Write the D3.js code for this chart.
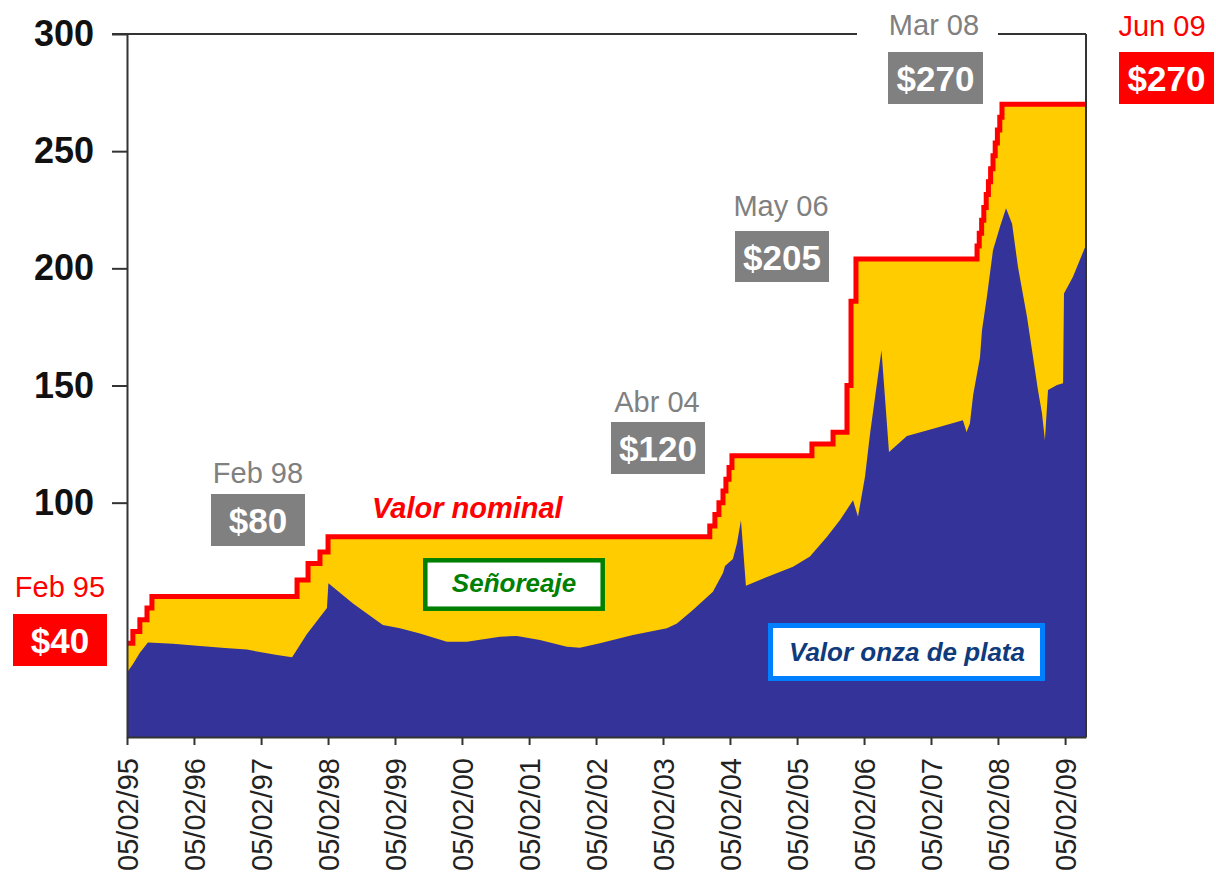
<!DOCTYPE html>
<html><head><meta charset="utf-8">
<script src="https://cdn.jsdelivr.net/npm/d3@7"></script>
<style>html,body{margin:0;padding:0;background:#fff;} svg{display:block;font-family:"Liberation Sans",Arial,sans-serif;}</style>
</head><body><svg id="c" width="1216" height="875"></svg>
<script>
// ---------------- DATA ----------------
const nominalDates = ["1995-02-05","1995-03-09","1995-04-16","1995-05-25","1995-06-21",
  "1997-08-20","1997-10-19","1997-12-23","1998-02-05",
  "2003-10-18","2003-11-15","2003-12-07","2003-12-29","2004-01-14","2004-01-31","2004-02-16",
  "2005-04-27","2005-08-20","2005-11-04","2005-11-26","2005-12-23",
  "2007-10-14","2007-10-26","2007-11-08","2007-11-20","2007-12-03","2007-12-15","2007-12-27",
  "2008-01-09","2008-01-21","2008-02-02","2008-02-15","2008-02-27","2009-05-30"];
const nominalValues = [40,45,50,55,60, 67,74,79,85.5, 90,95,100,105,110,115,120, 125,130,150,186,204,
  209.5,215,220.5,226,231.5,237,242.5,248,253.5,259,264.5,270,270];

const silverDates = ["1995-02-05","1995-03-09","1995-04-16","1995-05-30","1995-10-13","1996-03-09","1996-07-23",
  "1996-11-20","1997-03-09","1997-05-03","1997-07-24","1997-10-13","1998-01-30","1998-02-07","1998-06-21",
  "1998-12-01","1999-03-04","1999-06-21","1999-11-15","2000-03-03","2000-08-30","2000-12-01","2001-04-05",
  "2001-08-30","2001-11-09","2002-02-26","2002-08-25","2003-02-26","2003-04-22","2003-07-18","2003-11-04",
  "2003-12-29","2004-01-09","2004-02-21","2004-03-14","2004-04-05","2004-05-02","2004-08-25","2005-01-14",
  "2005-04-16","2005-07-18","2005-09-27","2005-12-07","2006-01-03","2006-02-10","2006-03-10","2006-04-06",
  "2006-05-11","2006-05-30","2006-06-21","2006-09-27","2007-02-16","2007-07-29","2007-08-18","2007-09-05",
  "2007-09-23","2007-10-30","2007-11-10","2007-12-07","2008-01-09","2008-02-16","2008-03-20","2008-04-22",
  "2008-05-24","2008-07-12","2008-08-14","2008-09-10","2008-10-02","2008-10-18","2008-11-04","2008-12-23",
  "2009-01-25","2009-01-30","2009-03-20","2009-05-30"];
const silverValues = [27.5,31,36,40.3,39.8,38.8,38,
  37.3,35.7,35,34,44,55,65.6,57,
  47.8,46.4,44.2,40.7,40.7,42.8,43.1,41.4,
  38.5,38.1,40,43.5,46.4,48.4,54.2,62,
  70,73,76,82.6,92.5,64.5,68.3,72.6,
  77,85.5,92.6,101,94,111,129.6,145,
  165,145,121.6,128.4,131.5,135.2,130.2,133.8,
  146,162,173.6,188,207.7,217.7,225.6,219,
  200.7,179.4,162.3,148.1,138.2,126.7,148.1,150.2,
  151,189.3,196.4,210];

const xTickDates = ["1995-02-05","1996-02-05","1997-02-05","1998-02-05","1999-02-05","2000-02-05","2001-02-05",
  "2002-02-05","2003-02-05","2004-02-05","2005-02-05","2006-02-05","2007-02-05","2008-02-05","2009-02-05"];
const xTickLabels = ["05/02/95","05/02/96","05/02/97","05/02/98","05/02/99","05/02/00","05/02/01",
  "05/02/02","05/02/03","05/02/04","05/02/05","05/02/06","05/02/07","05/02/08","05/02/09"];
const yTickValues = [100,150,200,250,300];

const calloutDates = ["Feb 95","Feb 98","Abr 04","May 06","Mar 08","Jun 09"];
const calloutValues = ["$40","$80","$120","$205","$270","$270"];
const seriesLabels = ["Valor nominal","Señoreaje","Valor onza de plata"];

// ---------------- LAYOUT ----------------
const parse = d3.timeParse("%Y-%m-%d");
const L = 127, R = 1086, T = 34, B = 737;
const x = d3.scaleTime().domain([parse("1995-02-05"), parse("2009-05-30")]).range([L, R]);
const y = d3.scaleLinear().domain([0, 300]).range([B, T]);

const nominal = nominalDates.map((d,i)=>({date:parse(d), v:nominalValues[i]}));
const silver = silverDates.map((d,i)=>({date:parse(d), v:silverValues[i]}));

const svg = d3.select("#c");
svg.append("defs").append("clipPath").attr("id","plot")
  .append("rect").attr("x",L).attr("y",T).attr("width",R-L).attr("height",B-T);

const g = svg.append("g").attr("clip-path","url(#plot)");
g.append("path").datum(nominal)
  .attr("fill","#FFCC00")
  .attr("d", d3.area().curve(d3.curveStepAfter).x(d=>x(d.date)).y0(y(0)).y1(d=>y(d.v)));
g.append("path").datum(silver)
  .attr("fill","#333399")
  .attr("d", d3.area().x(d=>x(d.date)).y0(y(0)).y1(d=>y(d.v)));
g.append("path").datum(nominal)
  .attr("fill","none").attr("stroke","#FF0000").attr("stroke-width",5)
  .attr("d", d3.line().curve(d3.curveStepAfter).x(d=>x(d.date)).y(d=>y(d.v)));

// frame: top and right lines
const frameColor = "#333";
svg.append("line").attr("x1",112).attr("x2",R).attr("y1",T).attr("y2",T).attr("stroke",frameColor).attr("stroke-width",2);
svg.append("line").attr("x1",R).attr("x2",R).attr("y1",T).attr("y2",B).attr("stroke",frameColor).attr("stroke-width",2);

// y axis
const yAxis = svg.append("g").attr("transform",`translate(${L},0)`)
  .call(d3.axisLeft(y).tickValues(yTickValues).tickSize(15).tickSizeOuter(0).tickPadding(18).tickFormat(d3.format("d")));
yAxis.select(".domain").attr("stroke",frameColor).attr("stroke-width",2);
yAxis.selectAll(".tick line").attr("stroke",frameColor).attr("stroke-width",2);
yAxis.selectAll(".tick text").attr("font-size",36).attr("font-weight","bold").attr("fill","#111")
  .attr("font-family",'"Liberation Sans",Arial,sans-serif');

// x axis
const xAxis = svg.append("g").attr("transform",`translate(0,${B})`)
  .call(d3.axisBottom(x).tickValues(xTickDates.map(parse)).tickSize(8).tickSizeOuter(0)
    .tickFormat((d,i)=>xTickLabels[i]));
xAxis.select(".domain").attr("stroke",frameColor).attr("stroke-width",2);
xAxis.selectAll(".tick line").attr("stroke",frameColor).attr("stroke-width",2);
xAxis.selectAll(".tick text").attr("font-size",29).attr("fill","#222")
  .attr("font-family",'"Liberation Sans",Arial,sans-serif')
  .attr("transform","rotate(-90)").attr("text-anchor","end")
  .attr("x",-21).attr("y",0).attr("dy","0.36em");

// callouts
const calloutLayout = [
  {tx:60,  ty:597, bx:13,  by:614, bw:94, bh:52, fill:"#FF0000", tc:"#FF0000"},
  {tx:258, ty:483, bx:211, by:494, bw:94, bh:52, fill:"#808080", tc:"#808080"},
  {tx:657, ty:412, bx:611, by:422, bw:94, bh:52, fill:"#808080", tc:"#808080"},
  {tx:781, ty:216, bx:735, by:231, bw:94, bh:51, fill:"#808080", tc:"#808080"},
  {tx:934, ty:35,  bx:888, by:52,  bw:95, bh:52, fill:"#808080", tc:"#808080", clear:[857,12,141,34]},
  {tx:1162,ty:36,  bx:1119,by:52,  bw:95, bh:52, fill:"#FF0000", tc:"#FF0000"}
];
calloutLayout.forEach((c,i)=>{
  if (c.clear) svg.append("rect").attr("x",c.clear[0]).attr("y",c.clear[1]).attr("width",c.clear[2]).attr("height",c.clear[3]).attr("fill","#fff");
  svg.append("text").attr("x",c.tx).attr("y",c.ty).attr("text-anchor","middle")
    .attr("font-size",29).attr("fill",c.tc).text(calloutDates[i]);
  svg.append("rect").attr("x",c.bx).attr("y",c.by).attr("width",c.bw).attr("height",c.bh).attr("fill",c.fill);
  svg.append("text").attr("x",c.bx+c.bw/2).attr("y",c.by+c.bh/2+13).attr("text-anchor","middle")
    .attr("font-size",35).attr("font-weight","bold").attr("fill","#fff").text(calloutValues[i]);
});

// series labels
svg.append("text").attr("x",372).attr("y",518).attr("font-size",29).attr("font-weight","bold")
  .attr("font-style","italic").attr("fill","#FF0000").text(seriesLabels[0]);

svg.append("rect").attr("x",425.3).attr("y",560.3).attr("width",177.4).attr("height",48.4)
  .attr("fill","#fff").attr("stroke","#008000").attr("stroke-width",4.5);
svg.append("text").attr("x",514).attr("y",592).attr("text-anchor","middle").attr("font-size",26)
  .attr("font-weight","bold").attr("font-style","italic").attr("fill","#008000").text(seriesLabels[1]);

svg.append("rect").attr("x",770.5).attr("y",625.5).attr("width",272).attr("height",53)
  .attr("fill","#fff").attr("stroke","#0080FF").attr("stroke-width",5);
svg.append("text").attr("x",907).attr("y",661).attr("text-anchor","middle").attr("font-size",26)
  .attr("font-weight","bold").attr("font-style","italic").attr("fill","#0f3b7c").text(seriesLabels[2]);
</script></body></html>
